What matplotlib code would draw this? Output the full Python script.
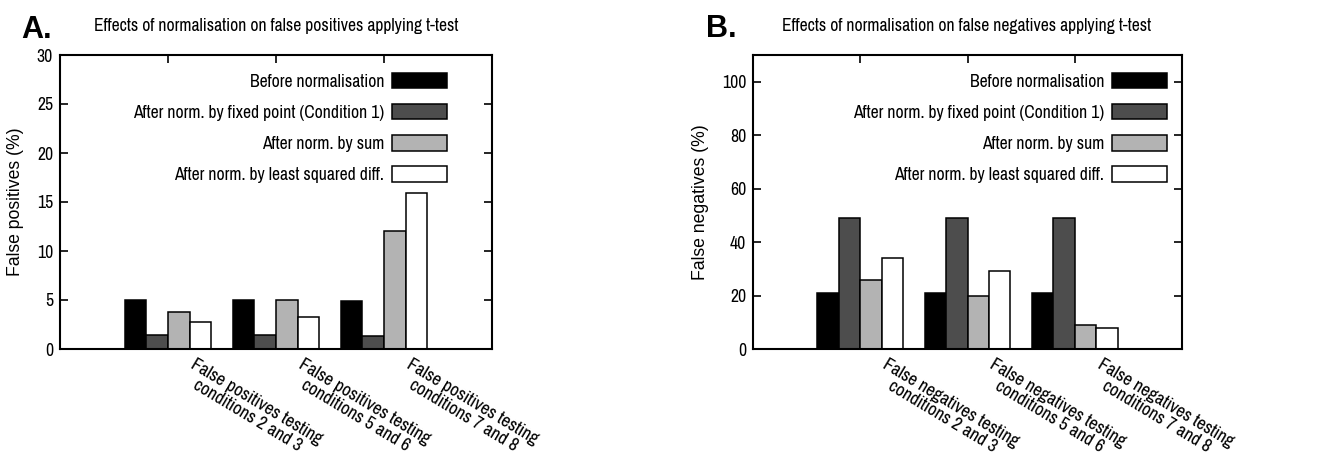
import matplotlib
matplotlib.use('Agg')
import matplotlib.pyplot as plt
import numpy as np
from matplotlib.transforms import ScaledTranslation

# series labels and colours
series = ['Before normalisation',
          'After norm. by fixed point (Condition 1)',
          'After norm. by sum',
          'After norm. by least squared diff.']
colors = ['#000000', '#4d4d4d', '#b3b3b3', '#ffffff']

# panel A: false positives (%)
fp_labels = ['False positives testing\nconditions 2 and 3',
             'False positives testing\nconditions 5 and 6',
             'False positives testing\nconditions 7 and 8']
fp_before = [5.0, 5.0, 4.9]
fp_fixed = [1.4, 1.4, 1.3]
fp_sum = [3.8, 5.0, 12.0]
fp_lsq = [2.8, 3.3, 15.9]

# panel B: false negatives (%)
fn_labels = ['False negatives testing\nconditions 2 and 3',
             'False negatives testing\nconditions 5 and 6',
             'False negatives testing\nconditions 7 and 8']
fn_before = [21, 21, 21]
fn_fixed = [49, 49, 49]
fn_sum = [26, 20, 9]
fn_lsq = [34, 29, 8]

# narrow face to mimic the squeezed look of the original
NARROW = ['Archivo Narrow', 'Roboto Condensed', 'Liberation Sans', 'DejaVu Sans']
REG = ['Liberation Sans', 'DejaVu Sans']
plt.rcParams['font.family'] = NARROW
plt.rcParams['font.size'] = 12.7

W, H = 1330, 463
fig = plt.figure(figsize=(W / 100, H / 100), dpi=100)


def px_axes(x0, x1, ytop, ybot):
    return fig.add_axes([x0 / W, (H - ybot) / H, (x1 - x0) / W, (ybot - ytop) / H])


def draw_panel(ax, values, labels, ylim, yticks, ylabel, leg_x):
    x = np.arange(1, len(labels) + 1)
    width = 0.2
    offsets = [-0.3, -0.1, 0.1, 0.3]
    for vals, c, name, off in zip(values, colors, series, offsets):
        ax.bar(x + off, vals, width, color=c, edgecolor='black',
               linewidth=1.1, label=name, zorder=2)
    ax.set_xlim(0, 4)
    ax.set_ylim(*ylim)
    ax.set_yticks(yticks)
    ax.set_xticks(x)
    ax.set_xticklabels([])
    # rotated category labels, shifted right of the tick like the original
    shift = ax.get_xaxis_transform() + ScaledTranslation(0.28, -0.07, fig.dpi_scale_trans)
    for xi, lab in zip(x, labels):
        ax.text(xi, 0, lab, transform=shift, rotation=-31, rotation_mode='anchor',
                ha='left', va='top', multialignment='center', clip_on=False,
                fontsize=13.2, linespacing=1.0)
    ax.tick_params(direction='in', length=6, width=1.2, top=True, right=True)
    ax.tick_params(axis='y', pad=5)
    for s in ax.spines.values():
        s.set_linewidth(1.5)
    ax.set_ylabel(ylabel, family=REG, fontsize=12.7, labelpad=9)
    ax.legend(loc='upper right', bbox_to_anchor=(leg_x, 0.94), frameon=False,
              markerfirst=False, handlelength=3.1, handleheight=1.0,
              handletextpad=0.45, labelspacing=0.8, borderpad=0,
              borderaxespad=0)


ax1 = px_axes(60, 492, 55, 349)
draw_panel(ax1, [fp_before, fp_fixed, fp_sum, fp_lsq], fp_labels,
           (0, 30), np.arange(0, 31, 5), 'False positives (%)', (447 - 60) / 432)

ax2 = px_axes(753, 1182, 55, 349)
draw_panel(ax2, [fn_before, fn_fixed, fn_sum, fn_lsq], fn_labels,
           (0, 110), np.arange(0, 101, 20), 'False negatives (%)', (1167 - 753) / 429)

fig.text(276 / W, (H - 31) / H, 'Effects of normalisation on false positives applying t-test',
         ha='center', va='baseline')
fig.text(967 / W, (H - 31) / H, 'Effects of normalisation on false negatives applying t-test',
         ha='center', va='baseline')
fig.text(21 / W, (H - 38) / H, 'A.', fontsize=22, fontweight='bold', va='baseline', family=REG)
fig.text(706 / W, (H - 37) / H, 'B.', fontsize=22, fontweight='bold', va='baseline', family=REG)

fig.savefig('out.png', dpi=100)
